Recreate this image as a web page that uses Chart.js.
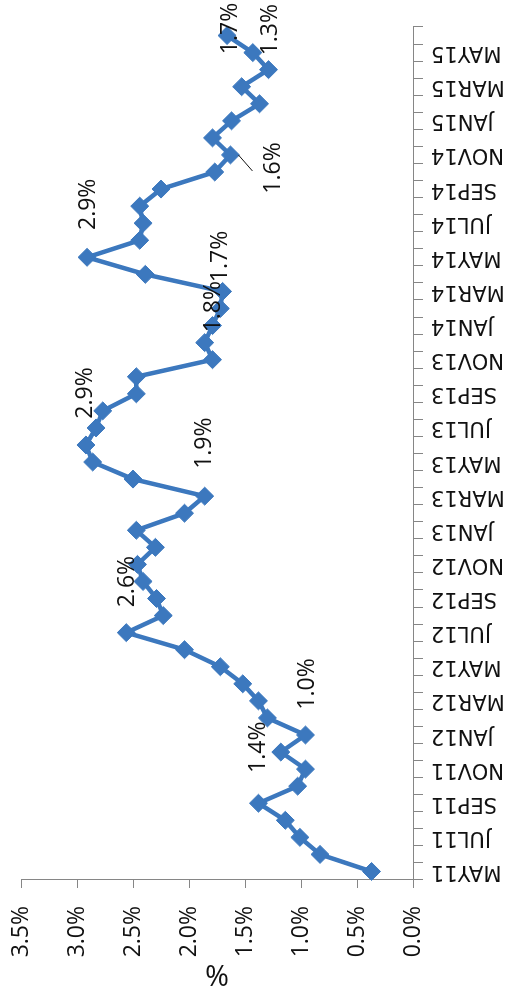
<!DOCTYPE html>
<html>
<head>
<meta charset="utf-8">
<title>Monthly rate</title>
<script src="https://cdn.jsdelivr.net/npm/chart.js@4"></script>
<style>
  html, body { margin: 0; padding: 0; background: #fff; overflow: hidden; }
  /* chart is drawn landscape, then turned a quarter counter-clockwise */
  #wrap {
    position: absolute; left: 0; top: 0;
    width: 1001px; height: 511px;
    transform-origin: 0 0;
    transform: translate(0px, 1001px) rotate(-90deg);
  }
</style>
</head>
<body>
<div id="wrap"><canvas id="rate-chart" width="1001" height="511"></canvas></div>
<script>
const months = [
  "MAY11", "JUN11", "JUL11", "AUG11", "SEP11", "OCT11", "NOV11", "DEC11",
  "JAN12", "FEB12", "MAR12", "APR12", "MAY12", "JUN12", "JUL12", "AUG12",
  "SEP12", "OCT12", "NOV12", "DEC12", "JAN13", "FEB13", "MAR13", "APR13",
  "MAY13", "JUN13", "JUL13", "AUG13", "SEP13", "OCT13", "NOV13", "DEC13",
  "JAN14", "FEB14", "MAR14", "APR14", "MAY14", "JUN14", "JUL14", "AUG14",
  "SEP14", "OCT14", "NOV14", "DEC14", "JAN15", "FEB15", "MAR15", "APR15",
  "MAY15", "JUN15"
];

// % values
const rates = [
  0.37, 0.83, 1.01, 1.14, 1.38, 1.03, 0.96, 1.18,
  0.96, 1.30, 1.38, 1.52, 1.72, 2.04, 2.56, 2.23,
  2.29, 2.41, 2.46, 2.30, 2.47, 2.04, 1.86, 2.50,
  2.86, 2.92, 2.83, 2.77, 2.47, 2.47, 1.79, 1.86,
  1.79, 1.72, 1.70, 2.39, 2.91, 2.44, 2.41, 2.44,
  2.25, 1.77, 1.63, 1.79, 1.62, 1.37, 1.53, 1.29,
  1.43, 1.66
];

const valueTicks = [0, 0.5, 1, 1.5, 2, 2.5, 3, 3.5];

// points that carry a data label
const labelIdx = [4, 8, 14, 22, 25, 30, 33, 36, 42, 47, 49];
const labelText = ["1.4%", "1.0%", "2.6%", "1.9%", "2.9%", "1.8%", "1.7%", "2.9%", "1.6%", "1.3%", "1.7%"];
// label offset from its point, px (landscape frame)
const labelShift = [[56, 0], [51, 2], [51, 1], [53, 0], [52, -1], [53, 1], [52, 0], [53, 1], [-13, 43], [40, 2], [7, 3]];

document.addEventListener("DOMContentLoaded", function () {
  const blue = "#3c78be";
  const axisGrey = "#868686";
  const tickFont = { family: "'Open Sans'", size: 23 };

  const pointLabels = {
    id: "pointLabels",
    afterDatasetsDraw(chart) {
      const { ctx } = chart;
      const x = chart.scales.x;
      const y = chart.scales.y;
      ctx.save();
      ctx.font = "23px 'Open Sans'";
      ctx.fillStyle = "#111";
      ctx.textAlign = "center";
      ctx.textBaseline = "middle";
      labelIdx.forEach(function (idx, k) {
        const px = x.getPixelForValue(idx);
        const py = y.getPixelForValue(rates[idx]);
        ctx.fillText(labelText[k], px + labelShift[k][0], py + labelShift[k][1]);
        if (labelText[k] === "1.6%") {
          // leader line back to the point
          ctx.strokeStyle = "#111";
          ctx.lineWidth = 1;
          ctx.beginPath();
          ctx.moveTo(px, py + 8);
          ctx.lineTo(px - 16, py + 22);
          ctx.stroke();
        }
      });
      ctx.restore();
    },
  };

  new Chart(document.getElementById("rate-chart"), {
    type: "line",
    data: {
      labels: months,
      datasets: [
        {
          label: "%",
          data: rates,
          borderColor: blue,
          backgroundColor: blue,
          borderWidth: 4.5,
          pointStyle: "rectRot",
          pointRadius: 9,
          pointBackgroundColor: blue,
          pointBorderColor: blue,
          pointBorderWidth: 1,
          tension: 0,
        },
      ],
    },
    options: {
      responsive: false,
      animation: false,
      layout: { padding: { top: 21, right: 27, left: 0, bottom: 0 } },
      plugins: { legend: { display: false }, tooltip: { enabled: false } },
      scales: {
        x: {
          offset: true,
          grid: { offset: true, drawOnChartArea: false, tickLength: 10, color: axisGrey },
          border: { color: axisGrey },
          ticks: {
            autoSkip: false,
            minRotation: 90,
            maxRotation: 90,
            padding: 8,
            color: "#111",
            font: { family: "'DejaVu Sans'", size: 21 },
            callback: function (val, i) {
              return i % 2 === 0 ? months[i] : "";
            },
          },
          afterFit: function (s) {
            s.height = 98;
            s.paddingLeft = 0;
            s.paddingRight = 0;
          },
        },
        y: {
          min: 0,
          max: 3.5,
          afterBuildTicks: function (s) {
            s.ticks = valueTicks.map(function (v) { return { value: v }; });
          },
          grid: { drawOnChartArea: false, tickLength: 8, color: axisGrey },
          border: { color: axisGrey },
          ticks: {
            padding: 18,
            color: "#111",
            font: tickFont,
            callback: function (v) { return v.toFixed(1) + "%"; },
          },
          title: {
            display: true,
            text: "%",
            color: "#111",
            font: { family: "'Open Sans'", size: 29 },
            padding: { top: 10, bottom: 0 },
          },
          afterFit: function (s) {
            s.width = 121;
            s.paddingTop = 0;
            s.paddingBottom = 0;
          },
        },
      },
    },
    plugins: [pointLabels],
  });
});
</script>
</body>
</html>
